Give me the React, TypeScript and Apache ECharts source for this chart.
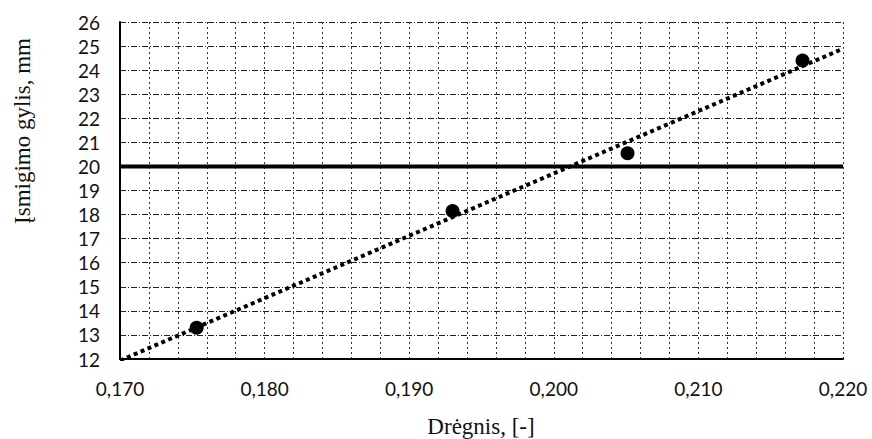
import React, { useEffect, useRef } from "react";
import * as echarts from "echarts";

const moisture = [0.1753, 0.193, 0.2051, 0.2172];
const depth = [13.3, 18.15, 20.55, 24.4];
const limitDepth = 20;
const xRange = [0.17, 0.22];
const yRange = [12, 26];
const xLabelStep = 0.01;
const xGridStep = 0.002;
const yStep = 1;
const xTitle = "Drėgnis, [-]";
const yTitle = "Įsmigimo gylis, mm";

function regression(xs: number[], ys: number[]) {
  const n = xs.length;
  const mx = xs.reduce((a, b) => a + b, 0) / n;
  const my = ys.reduce((a, b) => a + b, 0) / n;
  let sxy = 0;
  let sxx = 0;
  for (let i = 0; i < n; i++) {
    sxy += (xs[i] - mx) * (ys[i] - my);
    sxx += (xs[i] - mx) * (xs[i] - mx);
  }
  const k = sxy / sxx;
  return (x: number) => my + k * (x - mx);
}

export default function App() {
  const ref = useRef<HTMLDivElement>(null);
  useEffect(() => {
    document.body.style.margin = "0";
    if (!ref.current) return;
    const chart = echarts.init(ref.current, undefined, { renderer: "svg" });
    const f = regression(moisture, depth);
    const trend = [
      [xRange[0], f(xRange[0])],
      [xRange[1], f(xRange[1])],
    ];
    const labelFont = "Lato, 'Open Sans', sans-serif";
    chart.setOption({
      animation: false,
      backgroundColor: "#fff",
      grid: { left: 120, right: 29, top: 22, bottom: 80, containLabel: false },
      xAxis: {
        type: "value",
        min: xRange[0],
        max: xRange[1],
        interval: xGridStep,
        axisLine: { show: true, lineStyle: { color: "#000", width: 2 } },
        axisTick: { show: false },
        axisLabel: {
          margin: 20,
          fontFamily: labelFont,
          fontSize: 19,
          color: "#111",
          showMinLabel: true,
          showMaxLabel: true,
          formatter: (v: number) => {
            const r = v / xLabelStep;
            if (Math.abs(Math.round(r) - r) > 1e-6) return "";
            return v.toFixed(3).replace(".", ",");
          },
        },
        splitLine: {
          show: true,
          lineStyle: { color: "#333", width: 1, type: [2, 3] },
        },
      },
      yAxis: {
        type: "value",
        min: yRange[0],
        max: yRange[1],
        interval: yStep,
        axisLine: { show: true, lineStyle: { color: "#000", width: 2 } },
        axisTick: { show: false },
        axisLabel: {
          margin: 20,
          fontFamily: labelFont,
          fontSize: 19,
          color: "#111",
        },
        splitLine: {
          show: true,
          lineStyle: { color: "#222", width: 1, type: [6, 2, 1, 2] },
        },
      },
      graphic: [
        {
          type: "text",
          x: 22,
          y: 131,
          rotation: Math.PI / 2,
          style: {
            text: yTitle,
            fontFamily: "'Liberation Serif', 'DejaVu Serif', serif",
            fontSize: 23,
            fill: "#111",
            textAlign: "center",
            textVerticalAlign: "middle",
          },
        },
        {
          type: "text",
          x: 481,
          y: 426,
          style: {
            text: xTitle,
            fontFamily: "'Liberation Serif', 'DejaVu Serif', serif",
            fontSize: 23,
            fill: "#111",
            textAlign: "center",
            textVerticalAlign: "middle",
          },
        },
      ],
      series: [
        {
          type: "line",
          data: [
            [xRange[0], limitDepth],
            [xRange[1], limitDepth],
          ],
          symbol: "none",
          lineStyle: { color: "#000", width: 4 },
          z: 3,
        },
        {
          type: "line",
          data: trend,
          symbol: "none",
          clip: true,
          lineStyle: { color: "#000", width: 4, type: [4, 3.5] },
          z: 4,
        },
        {
          type: "scatter",
          data: moisture.map((x, i) => [x, depth[i]]),
          symbol: "circle",
          symbolSize: 14,
          itemStyle: { color: "#000", opacity: 1 },
          z: 5,
        },
      ],
    });
    return () => chart.dispose();
  }, []);
  return <div ref={ref} style={{ width: 872, height: 439 }} />;
}
